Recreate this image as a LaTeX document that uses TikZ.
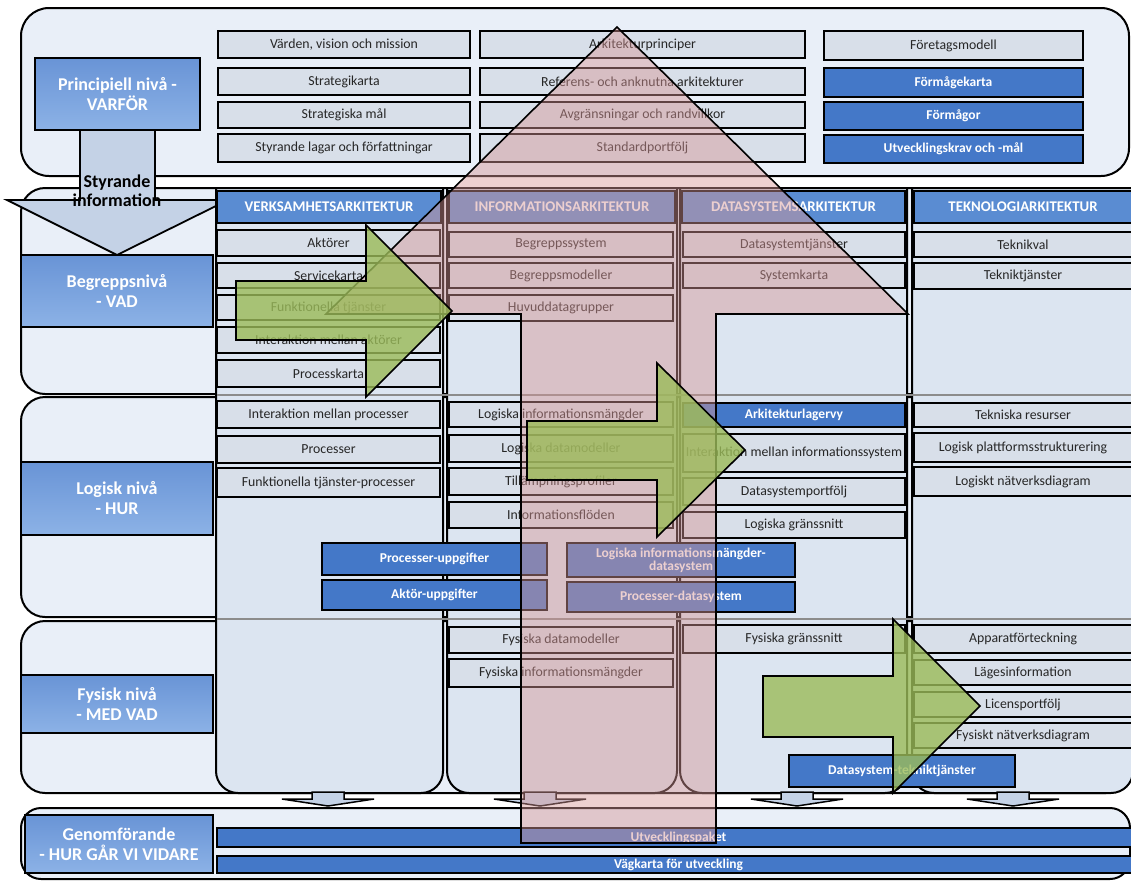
\documentclass[tikz,border=0pt]{standalone}
\usepackage{fontspec}
\setmainfont{Carlito}
\definecolor{contbg}{RGB}{233,239,248}
\definecolor{colbg}{RGB}{220,229,241}
\definecolor{graybox}{RGB}{216,223,233}
\definecolor{hdrblue}{RGB}{90,140,210}
\definecolor{bluebox}{RGB}{68,120,200}
\definecolor{lvltop}{RGB}{105,148,214}
\definecolor{lvlbot}{RGB}{140,178,230}
\definecolor{pinkfill}{RGB}{215,150,150}
\definecolor{greenfill}{RGB}{155,187,89}
\definecolor{styfill}{RGB}{196,210,230}
\tikzset{
 every node/.style={inner sep=1pt, outer sep=0pt},
 gbox/.style={draw=black, line width=2pt, fill=graybox, font=\fontsize{13.8}{15}\selectfont, text=black!85, align=center},
 bbox/.style={draw=black, line width=2pt, fill=bluebox, font=\bfseries\fontsize{13.5}{14}\selectfont, text=white, align=center},
 hdr/.style={draw=black, line width=1.5pt, fill=hdrblue, font=\bfseries\fontsize{14.8}{16}\selectfont, text=white},
 lvl/.style={draw=black, line width=2pt, top color=lvltop, bottom color=lvlbot, font=\bfseries\fontsize{18}{20}\selectfont, text=white, align=center},
 cont/.style={draw=black, line width=2pt, fill=contbg, rounded corners=28pt},
 colr/.style={draw=black, line width=2pt, fill=colbg},
 lvlline/.style={draw=black!45, line width=1.2pt},
 styarr/.style={draw=black, line width=1.8pt, fill=styfill},
 smallarr/.style={draw=black, line width=1.5pt, fill=styfill},
 bigpink/.style={draw=black, line width=1.6pt, fill=pinkfill, fill opacity=0.45},
 greenarr/.style={draw=black, line width=1.6pt, fill=greenfill, fill opacity=0.8},
}
\newcommand\bx[7]{\node[#6, minimum width={(#4)-(#2)}, minimum height={(#5)-(#3)}] (#1) at ({((#2)+(#4))/2},{((#3)+(#5))/2}) {#7};}
\newcommand\colshape[4]{\draw[colr] (#1,#2) -- (#1,{#4-22}) arc[start angle=180,end angle=270,radius=22pt] -- ({#3-22},#4) arc[start angle=270,end angle=360,radius=22pt] -- (#3,#2) -- cycle;}
\newcommand\downarr[1]{\draw[smallarr] ({#1-16},792) -- ({#1+16},792) -- ({#1+16},799) -- ({#1+46},799) -- (#1,806) -- ({#1-46},799) -- ({#1-16},799) -- cycle;}
\begin{document}
\begin{tikzpicture}[x=1pt,y=-1pt]
\useasboundingbox (0,0) rectangle (1131,881);
\clip (0,0) rectangle (1131,881);
% level containers
\draw[cont] (21,8) rectangle (1129,176);
\draw[cont,rounded corners=24pt] (21,188) rectangle (1130,394);
\draw[cont,rounded corners=24pt] (21,397) rectangle (1130,617);
\draw[cont,rounded corners=24pt] (21,621) rectangle (1130,793);
\draw[cont,rounded corners=20pt] (21,808) rectangle (1130,879);
% Styrande information arrow
\draw[styarr] (80,128) -- (155,128) -- (155,200) -- (228,200) -- (117,255) -- (7,200) -- (80,200) -- cycle;
% columns
\colshape{216}{188}{443}{793}
\colshape{447}{188}{677}{793}
\colshape{680}{188}{907}{793}
\colshape{912}{188}{1133}{793}
\draw[lvlline] (217,395) -- (1132,395);
\draw[lvlline] (217,619) -- (1132,619);
% top level
\bx{princ}{35}{58}{200}{130}{lvl}{Principiell nivå -\\VARFÖR}
\bx{t11}{218}{31}{470}{58}{gbox}{Värden, vision och mission}
\bx{t12}{218}{68}{470}{95}{gbox}{Strategikarta}
\bx{t13}{218}{102}{470}{128}{gbox}{Strategiska mål}
\bx{t14}{218}{134}{470}{162}{gbox}{Styrande lagar och författningar}
\bx{t21}{480}{31}{805}{58}{gbox}{Arkitekturprinciper}
\bx{t22}{480}{68}{805}{95}{gbox}{Referens- och anknutna arkitekturer}
\bx{t23}{480}{102}{805}{128}{gbox}{Avgränsningar och randvillkor}
\bx{t24}{480}{134}{805}{162}{gbox}{Standardportfölj}
\bx{t31}{824}{31}{1083}{60}{gbox}{Företagsmodell}
\bx{t32}{824}{68}{1083}{97}{bbox}{Förmågekarta}
\bx{t33}{824}{102}{1083}{130}{bbox}{Förmågor}
\bx{t34}{824}{135}{1083}{163}{bbox}{Utvecklingskrav och -mål}
% headers
\bx{hV}{217}{191}{441}{223}{hdr}{VERKSAMHETSARKITEKTUR}
\bx{hI}{449}{191}{675}{223}{hdr}{INFORMATIONSARKITEKTUR}
\bx{hD}{682}{191}{905}{223}{hdr}{DATASYSTEMSARKITEKTUR}
\bx{hT}{914}{191}{1132}{223}{hdr}{TEKNOLOGIARKITEKTUR}
% begreppsniva
\bx{v1}{217}{230}{440}{256}{gbox}{Aktörer}
\bx{v2}{217}{263}{440}{288}{gbox}{Servicekarta}
\bx{v3}{217}{295}{440}{320}{gbox}{Funktionella tjänster}
\bx{v4}{217}{327}{440}{353}{gbox}{Interaktion mellan aktörer}
\bx{v5}{217}{360}{440}{387}{gbox}{Processkarta}
\bx{i1}{449}{232}{673}{257}{gbox}{Begreppssystem}
\bx{i2}{449}{263}{673}{288}{gbox}{Begreppsmodeller}
\bx{i3}{449}{295}{673}{321}{gbox}{Huvuddatagrupper}
\bx{d1}{683}{232}{905}{257}{gbox}{Datasystemtjänster}
\bx{d2}{683}{263}{905}{288}{gbox}{Systemkarta}
\bx{k1}{914}{232}{1132}{257}{gbox}{Teknikval}
\bx{k2}{914}{263}{1132}{289}{gbox}{Tekniktjänster}
% logisk niva
\bx{v6}{217}{401}{440}{428}{gbox}{Interaktion mellan processer}
\bx{v7}{217}{436}{440}{463}{gbox}{Processer}
\bx{v8}{217}{468}{440}{497}{gbox}{Funktionella tjänster-processer}
\bx{i4}{449}{402}{673}{427}{gbox}{Logiska informationsmängder}
\bx{i5}{449}{435}{673}{462}{gbox}{Logiska datamodeller}
\bx{i6}{449}{468}{673}{495}{gbox}{Tillämpningsprofiler}
\bx{i7}{449}{502}{673}{528}{gbox}{Informationsflöden}
\bx{d3}{683}{403}{905}{427}{bbox}{Arkitekturlagervy}
\bx{d4}{683}{434}{905}{472}{gbox}{Interaktion mellan informationssystem}
\bx{d5}{683}{478}{905}{505}{gbox}{Datasystemportfölj}
\bx{d6}{683}{512}{905}{538}{gbox}{Logiska gränssnitt}
\bx{k3}{914}{403}{1132}{427}{gbox}{Tekniska resurser}
\bx{k4}{914}{433}{1132}{462}{gbox}{Logisk plattformsstrukturering}
\bx{k5}{914}{467}{1132}{496}{gbox}{Logiskt nätverksdiagram}
\bx{x1}{322}{543}{547}{575}{bbox}{Processer-uppgifter}
\bx{x2}{322}{580}{547}{610}{bbox}{Aktör-uppgifter}
\bx{x3}{567}{543}{795}{577}{bbox,font=\bfseries\fontsize{13.5}{13}\selectfont}{Logiska informationsmängder-\\datasystem}
\bx{x4}{567}{582}{795}{612}{bbox}{Processer-datasystem}
% fysisk niva
\bx{i8}{449}{627}{673}{653}{gbox}{Fysiska datamodeller}
\bx{i9}{449}{659}{673}{687}{gbox}{Fysiska informationsmängder}
\bx{d7}{683}{625}{905}{653}{gbox}{Fysiska gränssnitt}
\bx{k6}{914}{625}{1132}{653}{gbox}{Apparatförteckning}
\bx{k7}{914}{660}{1132}{685}{gbox}{Lägesinformation}
\bx{k8}{914}{692}{1132}{717}{gbox}{Licensportfölj}
\bx{k9}{914}{723}{1132}{748}{gbox}{Fysiskt nätverksdiagram}
\bx{x5}{789}{755}{1015}{787}{bbox}{Datasystem-tekniktjänster}
% genomforande
\bx{g0}{25}{815}{213}{873}{lvl}{Genomförande\\- HUR GÅR VI VIDARE}
\bx{g1}{217}{828}{1140}{847}{bbox}{Utvecklingspaket}
\bx{g2}{217}{856}{1140}{873}{bbox}{Vägkarta för utveckling}
% level labels
\bx{lb}{21}{255}{213}{327}{lvl}{Begreppsnivå\\- VAD}
\bx{ll}{21}{462}{213}{535}{lvl}{Logisk nivå\\- HUR}
\bx{lf}{21}{675}{213}{733}{lvl}{Fysisk nivå\\- MED VAD}
\node[font=\bfseries\fontsize{18}{19}\selectfont, align=center, text=black] (sty) at (117,191) {Styrande\\information};
% small arrows under columns
\downarr{328}
\downarr{540}
\downarr{797}
\downarr{1013}
% big pink arrow
\draw[bigpink] (617,27) -- (908,314) -- (716,314) -- (716,843) -- (521,843) -- (521,314) -- (326,314) -- cycle;
% green arrows
\draw[greenarr] (236,281) -- (366,281) -- (366,225) -- (452,311) -- (366,397) -- (366,340) -- (236,340) -- cycle;
\draw[greenarr] (527,421) -- (657,421) -- (657,363) -- (745,450) -- (657,537) -- (657,480) -- (527,480) -- cycle;
\draw[greenarr] (763,676) -- (893,676) -- (893,619) -- (980,706) -- (893,793) -- (893,737) -- (763,737) -- cycle;
\end{tikzpicture}
\end{document}
